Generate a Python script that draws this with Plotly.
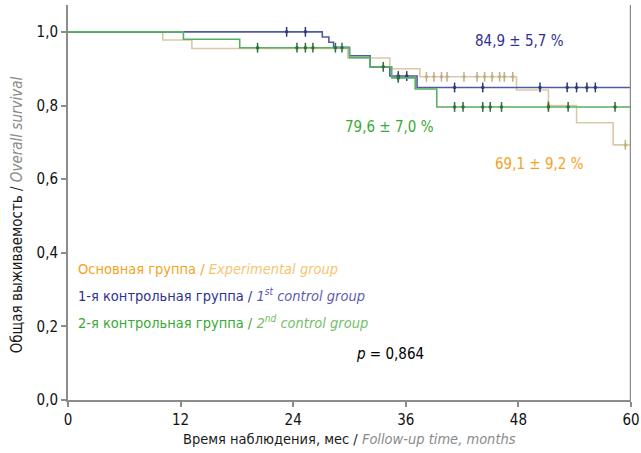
import plotly.graph_objects as go
import numpy as np

# ---- data ----
# Kaplan-Meier step times (months) and survival after each step
exp_times = [0, 10.1, 13.2, 29.8, 34.3, 37.5, 47.8, 51.2, 54.2, 58.1, 60]
exp_surv = [1.0, 0.978, 0.955, 0.929, 0.900, 0.878, 0.842, 0.800, 0.753, 0.693, 0.693]
exp_cens = [38.2, 39.0, 39.8, 40.4, 42.2, 43.6, 44.4, 45.2, 46.0, 46.5, 47.4, 51.2, 59.4]

c1_times = [0, 27.1, 27.8, 28.3, 30.0, 32.2, 34.3, 37.2, 60]
c1_surv = [1.0, 0.986, 0.972, 0.958, 0.935, 0.905, 0.880, 0.849, 0.849]
c1_cens = [23.3, 25.3, 35.2, 36.1, 41.2, 44.2, 50.3, 53.2, 54.2, 55.3, 56.2]

c2_times = [0, 12.3, 18.3, 30.0, 32.2, 34.5, 37.0, 39.3, 60]
c2_surv = [1.0, 0.980, 0.957, 0.930, 0.905, 0.875, 0.845, 0.796, 0.796]
c2_cens = [20.2, 24.4, 25.3, 26.1, 28.5, 29.2, 33.6, 35.2, 41.2, 42.1, 44.2, 45.0, 46.2, 51.2, 53.3, 58.3]

x_ticks = [0, 12, 24, 36, 48, 60]
y_ticks = [0.0, 0.2, 0.4, 0.6, 0.8, 1.0]
y_tick_labels = ["0,0", "0,2", "0,4", "0,6", "0,8", "1,0"]

est_labels = ["69,1 ± 9,2 %", "84,9 ± 5,7 %", "79,6 ± 7,0 %"]
p_value = "0,864"

FONT = "DejaVu Sans Condensed"


def surv_at(times, surv, t):
    idx = np.searchsorted(np.array(times), t, side="right") - 1
    return surv[max(idx, 0)]


fig = go.Figure()

series = [
    (exp_times, exp_surv, exp_cens, "#d9c9a6", "#c2ae88"),
    (c1_times, c1_surv, c1_cens, "#4e5ba3", "#2e3a7a"),
    (c2_times, c2_surv, c2_cens, "#58b060", "#2f6e3a"),
]

for times, surv, cens, lc, mc in series:
    fig.add_trace(go.Scatter(
        x=times, y=surv, mode="lines", line=dict(color=lc, width=1.6, shape="hv"),
        hoverinfo="skip", showlegend=False))
    fig.add_trace(go.Scatter(
        x=cens, y=[surv_at(times, surv, t) for t in cens], mode="markers",
        marker=dict(symbol="line-ns", size=7, line=dict(color=mc, width=1.5)),
        hoverinfo="skip", showlegend=False))
    fig.add_trace(go.Scatter(
        x=cens, y=[surv_at(times, surv, t) for t in cens], mode="markers",
        marker=dict(symbol="circle", size=3.5, color=mc),
        hoverinfo="skip", showlegend=False))

ann = []
# estimate labels
ann.append(dict(x=50.3, y=0.642, text=est_labels[0], font=dict(color="#f5a21c", size=15)))
ann.append(dict(x=48.1, y=0.975, text=est_labels[1], font=dict(color="#2e3192", size=15)))
ann.append(dict(x=34.3, y=0.742, text=est_labels[2], font=dict(color="#39a935", size=15)))
# legend text
legend_lines = [
    ("Основная группа", "#f5a21c", "Experimental group", "#f7c46e"),
    ("1-я контрольная группа", "#2e3192", "1<sup>st</sup> control group", "#5a5eb0"),
    ("2-я контрольная группа", "#39a935", "2<sup>nd</sup> control group", "#72c068"),
]
ys = [0.357, 0.285, 0.213]
for (ru, rc, en, ec), yy in zip(legend_lines, ys):
    ann.append(dict(x=0.85, y=yy, xanchor="left",
                    text=f"<span style='color:{rc}'>{ru} / </span><i><span style='color:{ec}'>{en}</span></i>",
                    font=dict(size=14.5)))
ann.append(dict(x=34.3, y=0.125, text=f"<i>p</i> = {p_value}", font=dict(color="#000000", size=15)))

for a in ann:
    a.setdefault("xanchor", "center")
    a.update(xref="x", yref="y", showarrow=False, yanchor="middle")
    a["font"]["family"] = FONT
    a["font"].setdefault("color", "#000000")

# axis titles
ann.append(dict(xref="paper", yref="paper", x=0.5, y=-0.0987, xanchor="center", yanchor="middle",
                showarrow=False,
                text="<span style='color:#1a1a1a'>Время наблюдения, мес / </span><i><span style='color:#8a8a8a'>Follow-up time, months</span></i>",
                font=dict(family=FONT, size=14.5)))
ann.append(dict(xref="paper", yref="paper", x=-0.0906, y=0.47, xanchor="center", yanchor="middle",
                showarrow=False, textangle=-90,
                text="<span style='color:#1a1a1a'>Общая выживаемость / </span><i><span style='color:#8a8a8a'>Overall survival</span></i>",
                font=dict(family=FONT, size=15)))

fig.update_layout(
    width=641, height=453,
    margin=dict(l=68, r=10, t=5, b=53),
    paper_bgcolor="white", plot_bgcolor="white",
    annotations=ann,
    xaxis=dict(range=[0, 60], tickvals=x_ticks, ticktext=[str(v) for v in x_ticks],
               showgrid=False, zeroline=False, showline=True, linecolor="#8c8c8c", linewidth=2,
               ticks="outside", ticklen=5, tickcolor="#8c8c8c", tickwidth=2, automargin=False,
               tickfont=dict(family=FONT, size=15, color="#111111")),
    yaxis=dict(range=[0, 1.073], tickvals=y_ticks, ticktext=y_tick_labels,
               showgrid=False, zeroline=False, showline=True, linecolor="#8c8c8c", linewidth=2,
               ticks="outside", ticklen=5, tickcolor="#8c8c8c", tickwidth=2, automargin=False,
               tickfont=dict(family=FONT, size=15, color="#111111")),
)
# right border
fig.add_shape(type="line", xref="x", yref="paper", x0=60, x1=60, y0=0, y1=1,
              line=dict(color="#8c8c8c", width=2.5))

# remove the default page margin so the 641x453 figure fills the window exactly
fig.write_html("out.html",
               config={"displayModeBar": False},
               post_script="document.body.style.margin='0';document.body.style.overflow='hidden';")
